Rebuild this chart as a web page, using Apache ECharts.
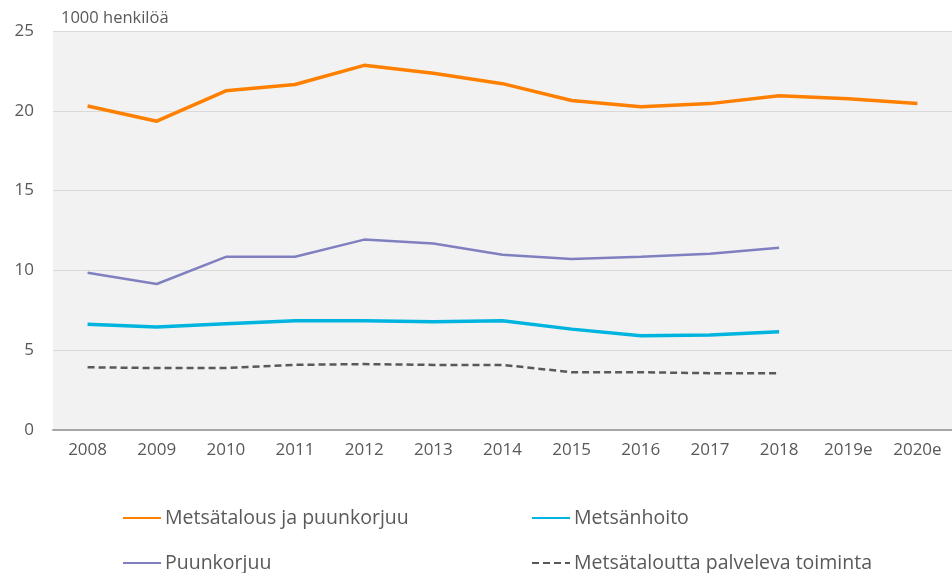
<!DOCTYPE html>
<html>
<head>
<meta charset="utf-8">
<script src="https://cdn.jsdelivr.net/npm/echarts@6/dist/echarts.min.js"></script>
<style>
  html, body { margin: 0; padding: 0; background: #fff; }
  #chart { width: 952px; height: 573px; }
</style>
</head>
<body>
<div id="chart"></div>
<script>
// vuodet ja sarjat (1000 henkilöä)
var years = ['2008','2009','2010','2011','2012','2013','2014','2015','2016','2017','2018','2019e','2020e'];
var metsatalousPuunkorjuu = [20.3, 19.35, 21.25, 21.65, 22.85, 22.35, 21.7, 20.65, 20.25, 20.45, 20.95, 20.75, 20.45];
var puunkorjuu = [9.85, 9.15, 10.85, 10.85, 11.93, 11.68, 10.98, 10.72, 10.85, 11.05, 11.42, null, null];
var metsanhoito = [6.62, 6.45, 6.65, 6.84, 6.84, 6.78, 6.84, 6.32, 5.9, 5.96, 6.15, null, null];
var palveleva = [3.93, 3.88, 3.88, 4.08, 4.13, 4.08, 4.08, 3.62, 3.62, 3.56, 3.56, null, null];
var yTicks = [0, 5, 10, 15, 20, 25];

var txt = '#595959';
var font = '"Open Sans", "Noto Sans", sans-serif';

var myChart = echarts.init(document.getElementById('chart'));

function leg(name, left, top) {
  return {
    data: [name], left: left, top: top, padding: 0,
    itemWidth: 38, itemHeight: 14, itemGap: 0,
    itemStyle: { opacity: 0 },
    textStyle: { color: txt, fontSize: 19.5, fontFamily: font, padding: [0, 0, 0, -1] },
    selectedMode: false
  };
}

option = {
  backgroundColor: '#ffffff',
  animation: false,
  title: {
    text: '1000 henkilöä', left: 61, top: 10, padding: 0,
    textStyle: { color: txt, fontSize: 16.5, fontWeight: 'normal', fontFamily: font }
  },
  grid: {
    left: 53, right: 0, top: 31, bottom: 143,
    show: true, backgroundColor: '#f2f2f2', borderWidth: 0
  },
  legend: [
    leg('Metsätalous ja puunkorjuu', 122, 508),
    leg('Metsänhoito', 531, 508),
    leg('Puunkorjuu', 122, 553),
    leg('Metsätaloutta palveleva toiminta', 531, 553)
  ],
  xAxis: {
    type: 'category', data: years, boundaryGap: true,
    axisLine: { lineStyle: { color: '#a6a6a6', width: 2 } },
    axisTick: { show: false },
    axisLabel: { color: txt, fontSize: 17, fontFamily: font, margin: 12 }
  },
  yAxis: {
    type: 'value', min: yTicks[0], max: yTicks[yTicks.length - 1], interval: 5,
    axisLine: { show: false }, axisTick: { show: false },
    splitLine: { lineStyle: { color: '#d9d9d9', width: 1 } },
    axisLabel: { color: txt, fontSize: 17, fontFamily: font, margin: 19 }
  },
  series: [
    { name: 'Metsätalous ja puunkorjuu', type: 'line', data: metsatalousPuunkorjuu, symbol: 'none',
      lineStyle: { color: '#ff8000', width: 3.5 }, itemStyle: { color: '#ff8000' } },
    { name: 'Metsänhoito', type: 'line', data: metsanhoito, symbol: 'none',
      lineStyle: { color: '#00b4e0', width: 3.5 }, itemStyle: { color: '#00b4e0' } },
    { name: 'Puunkorjuu', type: 'line', data: puunkorjuu, symbol: 'none',
      lineStyle: { color: '#8080c0', width: 2.5 }, itemStyle: { color: '#8080c0' } },
    { name: 'Metsätaloutta palveleva toiminta', type: 'line', data: palveleva, symbol: 'none',
      lineStyle: { color: '#595959', width: 2.5, type: [7, 4] }, itemStyle: { color: '#595959' } }
  ]
};
myChart.setOption(option);
</script>
</body>
</html>
